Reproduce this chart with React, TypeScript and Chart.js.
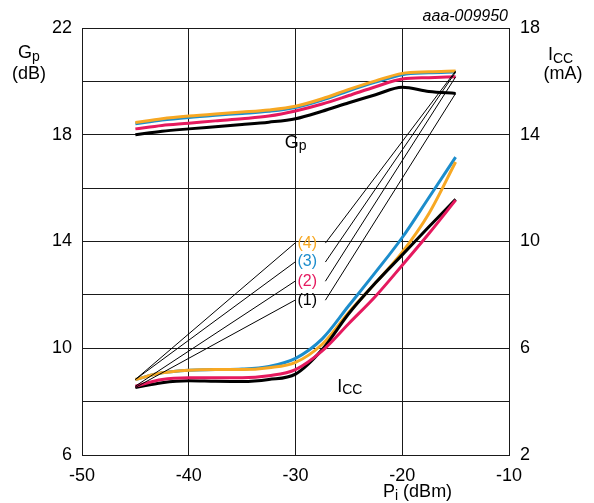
import React, { useEffect, useRef } from 'react';
import { Chart, registerables } from 'chart.js';

Chart.register(...registerables);

// ---- data ----
const piValues = [-45, -42.5, -40, -37.5, -35, -32.5, -30, -27.5, -25, -22.5, -20, -17.5, -15];

// Gp (dB), left axis
const gp1 = [18.0, 18.13, 18.22, 18.3, 18.38, 18.47, 18.6, 18.88, 19.2, 19.5, 19.78, 19.62, 19.55];
const gp2 = [18.22, 18.35, 18.43, 18.52, 18.6, 18.7, 18.89, 19.15, 19.47, 19.8, 20.09, 20.14, 20.17];
const gp3 = [18.41, 18.55, 18.65, 18.73, 18.8, 18.88, 19.02, 19.3, 19.65, 19.97, 20.25, 20.32, 20.35];
const gp4 = [18.46, 18.6, 18.7, 18.78, 18.85, 18.93, 19.07, 19.35, 19.7, 20.02, 20.3, 20.36, 20.39];

// ICC (mA), right axis
const icc1 = [4.53, 4.71, 4.78, 4.76, 4.75, 4.83, 5.03, 5.95, 7.3, 8.45, 9.5, 10.55, 11.58];
const icc2 = [4.58, 4.83, 4.89, 4.89, 4.89, 4.97, 5.2, 5.9, 6.93, 7.95, 9.11, 10.3, 11.55];
const icc3 = [4.83, 5.08, 5.18, 5.2, 5.22, 5.32, 5.62, 6.35, 7.6, 8.85, 10.15, 11.65, 13.16];
const icc4 = [4.83, 5.08, 5.18, 5.2, 5.2, 5.27, 5.47, 6.15, 7.35, 8.45, 9.6, 11.05, 12.98];

const piTicks = [-50, -40, -30, -20, -10];
const gpTicks = [6, 10, 14, 18, 22];
const iccTicks = [2, 6, 10, 14, 18];

const curveLabels = ['(1)', '(2)', '(3)', '(4)'];
const curveColors = ['#000000', '#E5195E', '#1C8DCC', '#F7A823'];
const labelPi = -28.9;
const labelGp = [11.8, 12.51, 13.23, 13.94];
const leaderLeftPi = -30.05;
const leaderRightPi = -27.2;

const FAMILY = "'Liberation Sans', Arial, Helvetica, sans-serif";

const gpSeries = [gp1, gp2, gp3, gp4];
const iccSeries = [icc1, icc2, icc3, icc4];

function toPts(ys: number[]) {
  return piValues.map((x, i) => ({ x, y: ys[i] }));
}

type Part = { t: string; size: number; dy: number; italic?: boolean };
function drawParts(ctx: CanvasRenderingContext2D, parts: Part[], x: number, y: number, align: 'left' | 'center' | 'right', color = '#000') {
  const widths = parts.map((p) => {
    ctx.font = `${p.italic ? 'italic ' : ''}${p.size}px ${FAMILY}`;
    return ctx.measureText(p.t).width;
  });
  const total = widths.reduce((a, b) => a + b, 0);
  let cx = align === 'left' ? x : align === 'center' ? x - total / 2 : x - total;
  ctx.fillStyle = color;
  ctx.textAlign = 'left';
  ctx.textBaseline = 'alphabetic';
  parts.forEach((p, i) => {
    ctx.font = `${p.italic ? 'italic ' : ''}${p.size}px ${FAMILY}`;
    ctx.fillText(p.t, cx, y + p.dy);
    cx += widths[i];
  });
}

const annotationPlugin = {
  id: 'annotations',
  afterDatasetsDraw(chart: any) {
    const ctx: CanvasRenderingContext2D = chart.ctx;
    const xs = chart.scales.x;
    const ys = chart.scales.y;
    const y1 = chart.scales.y1;
    ctx.save();
    // leader lines
    ctx.strokeStyle = '#000';
    ctx.lineWidth = 1;
    for (let i = 0; i < 4; i++) {
      const ly = ys.getPixelForValue(labelGp[i]);
      ctx.beginPath();
      ctx.moveTo(xs.getPixelForValue(leaderLeftPi), ly);
      ctx.lineTo(xs.getPixelForValue(piValues[0]), y1.getPixelForValue(iccSeries[i][0]));
      ctx.stroke();
      ctx.beginPath();
      ctx.moveTo(xs.getPixelForValue(leaderRightPi), ly);
      const last = piValues.length - 1;
      ctx.lineTo(xs.getPixelForValue(piValues[last]), ys.getPixelForValue(gpSeries[i][last]));
      ctx.stroke();
    }
    // curve labels
    ctx.textAlign = 'center';
    ctx.textBaseline = 'middle';
    ctx.font = `16px ${FAMILY}`;
    for (let i = 0; i < 4; i++) {
      ctx.fillStyle = curveColors[i];
      ctx.fillText(curveLabels[i], xs.getPixelForValue(labelPi), ys.getPixelForValue(labelGp[i]));
    }
    // in-plot curve group names
    drawParts(ctx, [{ t: 'G', size: 18, dy: 0 }, { t: 'p', size: 14, dy: 2 }], xs.getPixelForValue(-31.0), ys.getPixelForValue(17.5), 'left');
    drawParts(ctx, [{ t: 'I', size: 18, dy: 0 }, { t: 'CC', size: 14, dy: 2 }], xs.getPixelForValue(-26.1), y1.getPixelForValue(4.35), 'left');

    // axis titles
    const ca = chart.chartArea;
    drawParts(ctx, [{ t: 'G', size: 18, dy: 0 }, { t: 'p', size: 14, dy: 3 }], ca.left - 53, 58, 'center');
    drawParts(ctx, [{ t: '(dB)', size: 18, dy: 0 }], ca.left - 53, 79, 'center');
    drawParts(ctx, [{ t: 'I', size: 18, dy: 0 }, { t: 'CC', size: 14, dy: 3 }], ca.right + 39, 60, 'left');
    drawParts(ctx, [{ t: '(mA)', size: 18, dy: 0 }], ca.right + 54, 79, 'center');
    drawParts(ctx, [{ t: 'P', size: 18, dy: 0 }, { t: 'i', size: 14, dy: 3 }, { t: ' (dBm)', size: 18, dy: 0 }], 383, 497, 'left');
    drawParts(ctx, [{ t: 'aaa-009950', size: 16, dy: 0, italic: true }], ca.right - 1, 21, 'right');
    ctx.restore();
  },
};

export default function App() {
  const ref = useRef<HTMLCanvasElement | null>(null);
  useEffect(() => {
    if (!ref.current) return;
    const tickFont = { family: FAMILY, size: 18 };
    const gridColor = '#1a1a1a';
    const lineDs = (label: string, data: number[], color: string, axis: string) => ({
      label,
      data: toPts(data),
      borderColor: color,
      backgroundColor: color,
      borderWidth: 3,
      pointRadius: 0,
      fill: false,
      cubicInterpolationMode: 'monotone' as const,
      yAxisID: axis,
    });
    const chart = new Chart(ref.current, {
      type: 'line',
      data: {
        datasets: [
          lineDs('Gp (2)', gp2, curveColors[1], 'y'),
          lineDs('Gp (1)', gp1, curveColors[0], 'y'),
          lineDs('Gp (4)', gp4, curveColors[3], 'y'),
          lineDs('Gp (3)', gp3, curveColors[2], 'y'),
          lineDs('ICC (2)', icc2, curveColors[1], 'y1'),
          lineDs('ICC (1)', icc1, curveColors[0], 'y1'),
          lineDs('ICC (4)', icc4, curveColors[3], 'y1'),
          lineDs('ICC (3)', icc3, curveColors[2], 'y1'),
        ],
      },
      options: {
        animation: false,
        responsive: false,
        maintainAspectRatio: false,
        layout: { padding: { top: 28, left: 0, right: 0, bottom: 0 } },
        plugins: { legend: { display: false }, tooltip: { enabled: false } },
        scales: {
          x: {
            type: 'linear',
            min: -50,
            max: -10,
            afterFit: (s: any) => { s.height = 48; },
            ticks: {
              stepSize: 10,
              autoSkip: false,
              maxRotation: 0,
              padding: 10,
              color: '#000',
              font: tickFont,
              callback: (v: any) => (piTicks.includes(Number(v)) ? String(v) : ''),
            },
            grid: { color: gridColor, lineWidth: 1, drawTicks: false },
            border: { color: gridColor },
          },
          y: {
            type: 'linear',
            position: 'left',
            min: 6,
            max: 22,
            afterFit: (s: any) => { s.width = 82; },
            ticks: {
              stepSize: 2,
              autoSkip: false,
              padding: 10,
              color: '#000',
              font: tickFont,
              callback: (v: any) => (gpTicks.includes(Number(v)) ? String(v) : ''),
            },
            grid: { color: gridColor, lineWidth: 1, drawTicks: false },
            border: { color: gridColor },
          },
          y1: {
            type: 'linear',
            position: 'right',
            min: 2,
            max: 18,
            afterFit: (s: any) => { s.width = 85; },
            ticks: {
              stepSize: 2,
              autoSkip: false,
              padding: 11,
              color: '#000',
              font: tickFont,
              callback: (v: any) => (iccTicks.includes(Number(v)) ? String(v) : ''),
            },
            grid: { display: false, drawTicks: false },
            border: { color: gridColor },
          },
        },
      },
      plugins: [annotationPlugin],
    } as any);
    return () => chart.destroy();
  }, []);
  return (
    <div style={{ position: 'absolute', left: 0, top: 0, width: 594, height: 503, background: '#fff' }}>
      <canvas ref={ref} width={594} height={503} style={{ width: 594, height: 503, display: 'block' }} />
    </div>
  );
}
